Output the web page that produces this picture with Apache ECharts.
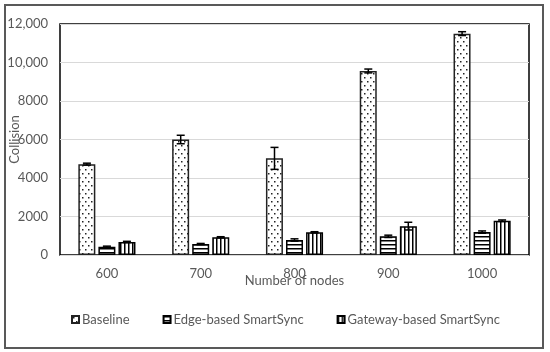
<!DOCTYPE html>
<html>
<head>
<meta charset="utf-8">
<script src="https://cdn.jsdelivr.net/npm/echarts@6/dist/echarts.min.js"></script>
<style>html,body{margin:0;padding:0;background:#fff;}#c{width:550px;height:352px;}</style>
</head>
<body>
<div id="c"></div>
<script>
var categories = ['600', '700', '800', '900', '1000'];
var baseline = [4720, 6000, 5020, 9560, 11500];
var baselineErr = [50, 220, 570, 100, 100];
var edge = [430, 570, 780, 970, 1190];
var edgeErr = [30, 30, 60, 60, 60];
var gateway = [680, 920, 1180, 1500, 1780];
var gatewayErr = [30, 30, 30, 200, 40];
var yTicks = { min: 0, max: 12000, interval: 2000 };

function makePattern(kind) {
  var c = document.createElement('canvas');
  var ctx = c.getContext('2d');
  if (kind === 'dots') {
    c.width = 6; c.height = 8;
    ctx.fillStyle = '#fff'; ctx.fillRect(0, 0, 6, 8);
    ctx.fillStyle = '#222';
    ctx.fillRect(1, 1, 1.5, 1.5);
    ctx.fillRect(4, 5, 1.5, 1.5);
  } else if (kind === 'h') {
    c.width = 4; c.height = 4;
    ctx.fillStyle = '#fff'; ctx.fillRect(0, 0, 4, 4);
    ctx.fillStyle = '#000'; ctx.fillRect(0, 0, 4, 1.5);
  } else {
    c.width = 4; c.height = 4;
    ctx.fillStyle = '#fff'; ctx.fillRect(0, 0, 4, 4);
    ctx.fillStyle = '#000'; ctx.fillRect(0, 0, 1.5, 4);
  }
  return { image: c, repeat: 'repeat' };
}

var font = 'Lato, "Open Sans", sans-serif';
var grey = '#595959';

function errData(vals, errs) {
  return vals.map(function (v, i) { return [i, v, errs[i]]; });
}
function errSeries(name, vals, errs, offset) {
  return {
    type: 'custom',
    name: name + ' err',
    silent: true,
    z: 10,
    data: errData(vals, errs),
    encode: { x: 0, y: 1 },
    renderItem: function (params, api) {
      var i = api.value(0), v = api.value(1), e = api.value(2);
      var top = api.coord([i, v + e]);
      var bot = api.coord([i, v - e]);
      var x = top[0] + offset;
      var hw = 4;
      var st = { stroke: '#000', lineWidth: 1.5 };
      return {
        type: 'group',
        children: [
          { type: 'line', shape: { x1: x, y1: top[1], x2: x, y2: bot[1] }, style: st },
          { type: 'line', shape: { x1: x - hw, y1: top[1], x2: x + hw, y2: top[1] }, style: st },
          { type: 'line', shape: { x1: x - hw, y1: bot[1], x2: x + hw, y2: bot[1] }, style: st }
        ]
      };
    }
  };
}

var chart = echarts.init(document.getElementById('c'), null, { renderer: 'canvas' });
chart.setOption({
  animation: false,
  backgroundColor: '#fff',
  textStyle: { fontFamily: font },
  graphic: [{
    type: 'rect',
    shape: { x: 5, y: 5, width: 538, height: 343 },
    style: { fill: 'none', stroke: grey, lineWidth: 2 },
    silent: true
  }],
  grid: { left: 60, right: 21, top: 24, bottom: 97, show: true, borderColor: '#000', borderWidth: 1.5, backgroundColor: 'transparent', outerBoundsMode: 'none' },
  legend: {
    left: 71, top: 313, padding: 0,
    itemWidth: 7, itemHeight: 7, itemGap: 33,
    icon: 'rect',
    data: ['Baseline', 'Edge-based SmartSync', 'Gateway-based SmartSync'],
    textStyle: { fontFamily: font, fontSize: 13, color: grey, padding: [0, 0, 0, -2] }
  },
  xAxis: {
    type: 'category',
    data: categories,
    name: 'Number of nodes',
    nameLocation: 'middle',
    nameGap: 19,
    nameMoveOverlap: false,
    nameTextStyle: { fontFamily: font, fontSize: 13, color: grey },
    axisLine: { show: false },
    axisTick: { show: false },
    axisLabel: { fontFamily: font, fontSize: 13, color: grey, margin: 12 }
  },
  yAxis: {
    type: 'value',
    min: yTicks.min, max: yTicks.max, interval: yTicks.interval,
    name: 'Collision',
    nameLocation: 'middle',
    nameGap: 39,
    nameMoveOverlap: false,
    nameTextStyle: { fontFamily: font, fontSize: 13, color: grey },
    axisLine: { show: false },
    axisTick: { show: false },
    splitLine: { lineStyle: { color: '#d9d9d9', width: 1 } },
    axisLabel: {
      fontFamily: font, fontSize: 13, color: grey, margin: 12,
      formatter: function (v) { return v >= 10000 ? v.toLocaleString('en-US') : String(v); }
    }
  },
  series: [
    { type: 'bar', name: 'Baseline', data: baseline, barWidth: 17, barGap: '18%',
      itemStyle: { color: makePattern('dots'), borderColor: '#222', borderWidth: 1.5 } },
    { type: 'bar', name: 'Edge-based SmartSync', data: edge, barWidth: 17, barGap: '18%',
      itemStyle: { color: makePattern('h'), borderColor: '#000', borderWidth: 1.5 } },
    { type: 'bar', name: 'Gateway-based SmartSync', data: gateway, barWidth: 17, barGap: '18%',
      itemStyle: { color: makePattern('v'), borderColor: '#000', borderWidth: 1.5 } },
    errSeries('Baseline', baseline, baselineErr, -20),
    errSeries('Edge', edge, edgeErr, 0),
    errSeries('Gateway', gateway, gatewayErr, 20)
  ]
});
</script>
</body>
</html>
